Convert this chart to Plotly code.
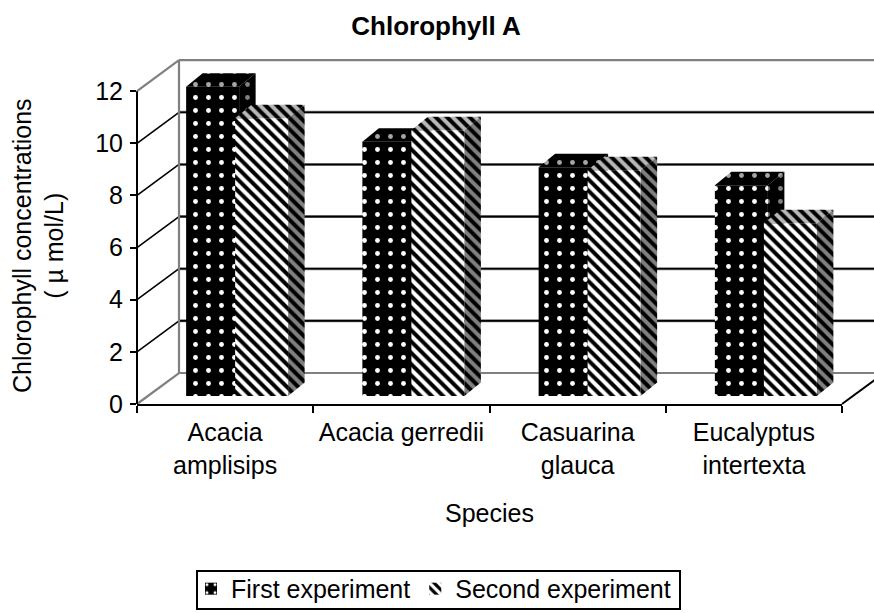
import plotly.graph_objects as go

species = ["Acacia<br>amplisips", "Acacia gerredii", "Casuarina<br>glauca", "Eucalyptus<br>intertexta"]
first_experiment = [11.86, 9.75, 8.77, 8.08]
second_experiment = [10.65, 10.19, 8.66, 6.63]
y_ticks = [0, 2, 4, 6, 8, 10, 12]

FONT = "Liberation Sans"
W, H = 874, 613
L, R, B = 137, 842, 404             # front plot frame in pixels
xr = [-0.5, 3.5]
yr = [0, 14]                        # headroom above 12 so the 3-D tops are not clipped
ux = (R - L) / (xr[1] - xr[0])      # px per category
uy = 313 / 12                       # px per y unit
T = B - uy * yr[1]

# 3-D projection in axis units
wall_dx, wall_dy = 42 / ux, 31 / uy
bar_dx, bar_dy = 16.5 / ux, 13.5 / uy
bar_base = 8 / uy
bar_w = 53 / ux
off1, off2 = -39 / ux, 10 / ux


def px(x):
    return (x - xr[0]) / (xr[1] - xr[0])


def py(y):
    return (y - yr[0]) / (yr[1] - yr[0])


def line(x0, y0, x1, y1, color, width):
    return dict(type="line", xref="paper", yref="paper", layer="below",
                x0=px(x0), y0=py(y0), x1=px(x1), y1=py(y1),
                line=dict(color=color, width=width))


GRAY = "#808080"
x_end = xr[1] + wall_dx
x_back = xr[0] + wall_dx
lo, hi = y_ticks[0], y_ticks[-1]
shapes = []
for v in y_ticks[1:-1]:
    shapes.append(line(xr[0], v, x_back, v + wall_dy, "black", 1.6))
    shapes.append(line(x_back, v + wall_dy, x_end, v + wall_dy, GRAY, 3))
    shapes.append(line(x_back, v + wall_dy, x_end, v + wall_dy, "black", 1.6))
shapes.append(line(x_back, lo + wall_dy, x_back, hi + wall_dy, GRAY, 2.2))
shapes.append(line(x_back, hi + wall_dy, x_end, hi + wall_dy, GRAY, 2.2))
shapes.append(line(x_back, lo + wall_dy, x_end, lo + wall_dy, GRAY, 2.2))
shapes.append(line(xr[0], lo, x_back, lo + wall_dy, GRAY, 2.2))
shapes.append(line(xr[0], hi, x_back, hi + wall_dy, GRAY, 2.2))
shapes.append(line(xr[1], lo, x_end, lo + wall_dy, "black", 2))
shapes.append(line(xr[0], lo, xr[0], hi, "black", 2))
# legend frame (the legend's own box is taller than the original's)
shapes.append(dict(type="rect", xref="paper", yref="paper", layer="below",
                   x0=(197 - L) / (R - L), x1=(680 - L) / (R - L),
                   y0=(B - 609) / (B - T), y1=(B - 571) / (B - T),
                   line=dict(color="black", width=2), fillcolor="white"))


def faces(values, offset):
    top_x, top_y, side_x, side_y = [], [], [], []
    for i, v in enumerate(values):
        x0 = i + offset
        x1 = x0 + bar_w
        t = bar_base + v
        top_x += [x0, x0 + bar_dx, x1 + bar_dx, x1, x0, None]
        top_y += [t, t + bar_dy, t + bar_dy, t, t, None]
        side_x += [x1, x1 + bar_dx, x1 + bar_dx, x1, x1, None]
        side_y += [bar_base, bar_base + bar_dy, t + bar_dy, t, bar_base, None]
    return top_x, top_y, side_x, side_y


def face_trace(xs, ys, pattern, xa, ya):
    return go.Scatter(x=xs, y=ys, mode="lines", fill="toself", line=dict(width=0),
                      fillcolor="black", fillpattern=pattern, hoverinfo="skip",
                      showlegend=False, xaxis=xa, yaxis=ya)


def dots(fg):
    return dict(shape=".", bgcolor="black", fgcolor=fg, size=13, solidity=0.11, fillmode="replace")


def stripes(fg):
    return dict(shape="\\", bgcolor="black", fgcolor=fg, size=8, solidity=0.5, fillmode="replace")


fig = go.Figure()
cats = list(range(len(species)))

fig.add_trace(go.Bar(name="First experiment", x=cats, y=first_experiment, base=bar_base,
                     offset=off1, width=bar_w,
                     marker=dict(color="black", line=dict(width=0), pattern=dots("white"))))
t_x, t_y, s_x, s_y = faces(first_experiment, off1)
fig.add_trace(face_trace(t_x, t_y, dots("#a6a6a6"), "x", "y"))
fig.add_trace(face_trace(s_x, s_y, dots("#808080"), "x", "y"))

fig.add_trace(go.Bar(name="Second experiment", x=cats, y=second_experiment, base=bar_base,
                     offset=off2, width=bar_w, xaxis="x2", yaxis="y2",
                     marker=dict(color="white", line=dict(width=0), pattern=stripes("white"))))
t_x, t_y, s_x, s_y = faces(second_experiment, off2)
fig.add_trace(face_trace(t_x, t_y, stripes("#b8b8b8"), "x2", "y2"))
fig.add_trace(face_trace(s_x, s_y, stripes("#808080"), "x2", "y2"))

axis_font = dict(family=FONT, size=25, color="black")
fig.update_layout(
    width=W, height=H, autosize=False,
    margin=dict(l=L, r=W - R, t=T, b=H - B, pad=0, autoexpand=False),
    paper_bgcolor="white", plot_bgcolor="rgba(0,0,0,0)",
    barmode="overlay", font=axis_font, shapes=shapes,
    title=dict(text="<b>Chlorophyll A</b>", x=436 / W, xanchor="center", y=1 - 26 / H, yanchor="middle",
               font=dict(family=FONT, size=26, color="black")),
    xaxis=dict(range=xr, tickmode="array", tickvals=cats, ticktext=species, ticks="",
               showgrid=False, zeroline=False, showline=True, linecolor="black", linewidth=2,
               tickfont=axis_font, ticklabelstandoff=5, automargin=False,
               minor=dict(tickmode="array", tickvals=[-0.5, 0.5, 1.5, 2.5, 3.5], ticks="outside",
                          ticklen=7, tickwidth=1.6, tickcolor="black", showgrid=False)),
    yaxis=dict(range=yr, tickmode="array", tickvals=y_ticks, ticks="outside", ticklen=6, tickwidth=1.6,
               tickcolor="black", showgrid=False, zeroline=False, showline=False,
               tickfont=axis_font, automargin=False, ticklabelstandoff=2),
    xaxis2=dict(range=xr, overlaying="x", visible=False),
    yaxis2=dict(range=yr, overlaying="y", visible=False),
    annotations=[
        dict(text="Species", xref="paper", yref="paper", showarrow=False, font=axis_font,
             x=(489 - L) / (R - L), y=(B - 513) / (B - T), xanchor="center", yanchor="middle"),
        dict(text="Chlorophyll concentrations<br>( µ mol/L)", xref="paper", yref="paper", showarrow=False,
             font=axis_font, textangle=-90, x=(38 - L) / (R - L), y=(B - 246) / (B - T),
             xanchor="center", yanchor="middle"),
    ],
    showlegend=True,
    legend=dict(orientation="h", x=(191 - L) / (R - L), xanchor="left",
                y=(B - 566) / (B - T), yanchor="top", bgcolor="rgba(0,0,0,0)",
                borderwidth=0, font=axis_font, itemwidth=30,
                tracegroupgap=0),
)

fig.write_html("out.html", config={"displayModeBar": False},
               post_script="document.body.style.margin='0';")
